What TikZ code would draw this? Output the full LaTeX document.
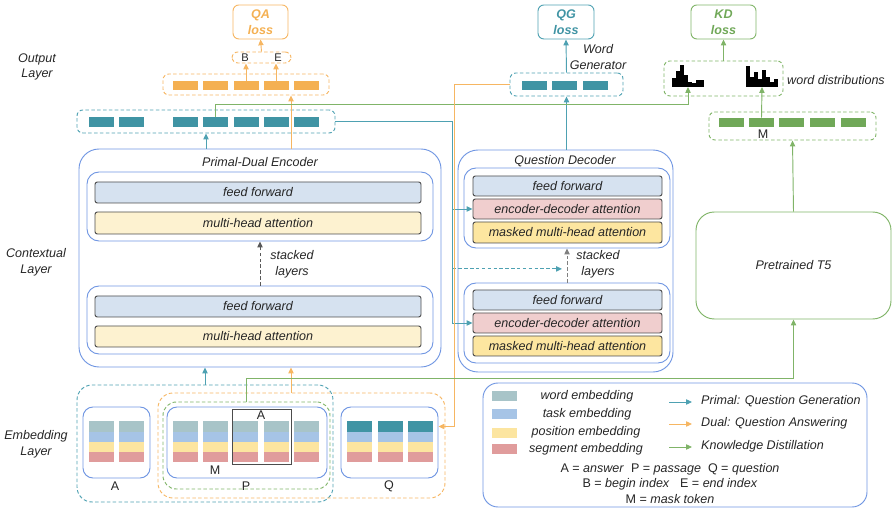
\documentclass[tikz,border=0pt]{standalone}
\usepackage{fontspec}
\setmainfont{Liberation Sans}
\setsansfont{Liberation Sans}
\usepackage{tikz}
\usetikzlibrary{arrows.meta, calc, fit, positioning}
\usepackage{xcolor}

\definecolor{tealtok}{RGB}{64,148,164}
\definecolor{tealln}{RGB}{78,161,178}
\definecolor{oratok}{RGB}{244,176,82}
\definecolor{orain}{RGB}{246,182,98}
\definecolor{grntok}{RGB}{112,168,88}
\definecolor{grnln}{RGB}{128,180,104}
\definecolor{blueln}{RGB}{112,150,226}
\definecolor{fffill}{RGB}{214,226,240}
\definecolor{mhafill}{RGB}{253,242,208}
\definecolor{mmfill}{RGB}{253,230,160}
\definecolor{edfill}{RGB}{240,206,206}
\definecolor{wemb}{RGB}{168,196,200}
\definecolor{temb}{RGB}{166,196,230}
\definecolor{pemb}{RGB}{252,229,160}
\definecolor{semb}{RGB}{224,156,156}

\newcommand{\txtsize}{\fontsize{10.7}{13.5}\selectfont}

\tikzset{
  lbl/.style={font=\txtsize\itshape, inner sep=0pt, align=center},
  plain/.style={font=\txtsize, inner sep=0pt},
  blockbox/.style={draw=blueln, line width=0.8pt, rounded corners=0.6cm, inner sep=0pt},
  layerbox/.style={draw=blueln, line width=0.8pt, rounded corners=0.36cm, inner sep=0pt},
  subbox/.style={draw=black!70, line width=0.8pt, rounded corners=2pt, inner sep=0pt},
  tok/.style={minimum width=0.75cm, minimum height=0.28cm, inner sep=0pt},
  grp/.style={dash pattern=on 3pt off 2pt, line width=0.8pt, rounded corners=5pt, inner sep=0pt},
  loss/.style={line width=0.8pt, rounded corners=5pt, inner sep=0pt},
  losstxt/.style={font=\txtsize\bfseries\itshape, align=center, inner sep=0pt},
  arr/.style={line width=0.8pt, -{Triangle[length=5pt,width=4.5pt]}},
}

\begin{document}
\begin{tikzpicture}[x=0.03cm, y=-0.03cm, text=black!85]
  \useasboundingbox (0,0) rectangle (896,516);

  % layer names
  \node[lbl] (lout) at (37,67) {Output\\Layer};
  \node[lbl] (lctx) at (36,262) {Contextual\\Layer};
  \node[lbl] (lemb) at (36,444) {Embedding\\Layer};

  % output layer: QA
  \node[loss, draw=orain, fit={(233,5) (288,39)}] (qa) {};
  \node[losstxt, text=oratok] at (qa.center) {QA\\loss};
  \node[inner sep=0pt, font=\fontsize{9.5}{11}\selectfont] (bb) at (245,58) {B};
  \node[inner sep=0pt, font=\fontsize{9.5}{11}\selectfont] (be) at (278,58) {E};
  \node[grp, draw=orain, fit={(232,52) (291,63)}] (beb) {};
  \foreach \x [count=\i] in {185,215,246,276,306}
    \node[tok, fill=oratok] (ot\i) at (\x,85.5) {};
  \node[grp, draw=orain, fit={(163,74) (329,95)}] (otb) {};
  \foreach \x [count=\i] in {101,131,185,215,246,276,306}
    \node[tok, fill=tealtok] (ct\i) at (\x,122) {};
  \node[grp, draw=tealln, fit={(77,110) (335,133)}] (ctb) {};

  % output layer: QG
  \node[loss, draw=tealln, fit={(538,5) (594,39)}] (qg) {};
  \node[losstxt, text=tealtok] at (qg.center) {QG\\loss};
  \node[lbl] (wgen) at (598,57) {Word\\Generator};
  \foreach \x [count=\i] in {534.5,564.5,595}
    \node[tok, fill=tealtok] (qt\i) at (\x,85.5) {};
  \node[grp, draw=tealln, fit={(510,73) (623,96)}] (qgb) {};

  % output layer: KD
  \node[loss, draw=grnln, fit={(691,5) (756,39)}] (kd) {};
  \node[losstxt, text=grntok] at (kd.center) {KD\\loss};
  \node[grp, draw=grnln, fit={(664,61) (783,96)}] (wdb) {};
  \node[lbl, anchor=west] (wdl) at (787,80) {word distributions};
  \foreach \h [count=\i] in {9,16,22,12,5,4,7,7}
    \fill[black] (668+\i*4,87) rectangle ++(4.2,-\h);
  \foreach \h [count=\i] in {21,10,15,8,17,10,5,8}
    \fill[black] (742+\i*4,87) rectangle ++(4.2,-\h);
  \coordinate (h1) at (688,87);
  \coordinate (h2) at (762,87);
  \foreach \x [count=\i] in {731,761.5,791.5,822.5,853}
    \node[tok, fill=grntok] (gt\i) at (\x,122.5) {};
  \node[plain] (gm) at (763,134) {M};
  \node[grp, draw=grnln, fit={(709,112) (876,140)}] (gtb) {};

  % encoder
  \node[blockbox, fit={(79,149) (441,367)}] (enc) {};
  \node[lbl] (enct) at (260,162) {Primal-Dual Encoder};
  \node[layerbox, fit={(87,172) (433,241)}] (enc1) {};
  \node[subbox, fill=fffill, fit={(95,182) (421,203)}] (eff1) {};
  \node[subbox, fill=mhafill, fit={(95,212) (421,234)}] (emh1) {};
  \node[layerbox, fit={(87,286) (433,354)}] (enc2) {};
  \node[subbox, fill=fffill, fit={(95,296) (421,317)}] (eff2) {};
  \node[subbox, fill=mhafill, fit={(95,326) (421,347)}] (emh2) {};
  \foreach \n/\t in {eff1/feed forward, emh1/multi-head attention,
                     eff2/feed forward, emh2/multi-head attention}
    \node[lbl] at (\n.center) {\t};
  \draw[arr, black!65, dash pattern=on 3pt off 2pt] (enc2.north) -- (enc1.south);
  \node[lbl] (estk) at (292,264) {stacked\\layers};

  % decoder
  \node[blockbox, fit={(458,150) (673,372)}] (dec) {};
  \node[lbl] (dect) at (565,161) {Question Decoder};
  \node[layerbox, fit={(464,168) (670,248)}] (dec1) {};
  \node[subbox, fill=fffill, fit={(473,176) (662,196)}] (dff1) {};
  \node[subbox, fill=edfill, fit={(473,199) (662,219)}] (ded1) {};
  \node[subbox, fill=mmfill, fit={(473,222) (662,243)}] (dmm1) {};
  \node[layerbox, fit={(464,283) (670,363)}] (dec2) {};
  \node[subbox, fill=fffill, fit={(473,290) (662,310)}] (dff2) {};
  \node[subbox, fill=edfill, fit={(473,313) (662,333)}] (ded2) {};
  \node[subbox, fill=mmfill, fit={(473,336) (662,356)}] (dmm2) {};
  \foreach \n/\t in {dff1/feed forward, ded1/encoder-decoder attention, dmm1/masked multi-head attention,
                     dff2/feed forward, ded2/encoder-decoder attention, dmm2/masked multi-head attention}
    \node[lbl] at (\n.center) {\t};
  \draw[arr, black!50, dash pattern=on 3pt off 2pt] (dec2.north) -- (dec1.south);
  \node[lbl] (dstk) at (598,264) {stacked\\layers};

  % teacher
  \node[draw=grnln, line width=0.8pt, rounded corners=0.55cm, inner sep=0pt,
        fit={(696,212) (891,319)}] (t5) {};
  \node[lbl] at (t5.center) {Pretrained T5};

  % embedding layer
  \node[grp, draw=tealln, rounded corners=0.45cm, fit={(77,385) (333,502)}] (teb) {};
  \node[grp, draw=orain, rounded corners=0.45cm, fit={(158,393) (445,498)}] (oeb) {};
  \node[grp, draw=grnln, rounded corners=0.4cm, fit={(163,402) (330,489)}] (geb) {};
  \node[layerbox, rounded corners=0.3cm, fit={(83,407) (150,478)}] (ab) {};
  \node[layerbox, rounded corners=0.3cm, fit={(167,407) (327,478)}] (pb) {};
  \node[layerbox, rounded corners=0.3cm, fit={(341,407) (438,478)}] (qb) {};
  \foreach \x in {89,119,173,203,233,264,294} {
    \fill[wemb] (\x,421) rectangle ++(25,10.5);
    \fill[temb] (\x,431.5) rectangle ++(25,10.5);
    \fill[pemb] (\x,442) rectangle ++(25,10);
    \fill[semb] (\x,452) rectangle ++(25,10);
  }
  \foreach \x [count=\i] in {347,378,408} {
    \node[tok, minimum height=0.315cm, fill=tealtok, anchor=north west] (qw\i) at (\x,421) {};
    \fill[temb] (\x,431.5) rectangle ++(25,10.5);
    \fill[pemb] (\x,442) rectangle ++(25,10);
    \fill[semb] (\x,452) rectangle ++(25,10);
  }
  \node[draw=black!70, line width=0.8pt, inner sep=0pt, fit={(232,409) (291,464)}] (ansb) {};
  \node[plain] (ansl) at (261,415) {A};
  \node[plain] (al) at (115,486) {A};
  \node[plain] (pl) at (246,486) {P};
  \node[plain] (ql) at (389,486) {Q};
  \node[plain] (pm) at (215,470) {M};

  % legend
  \node[layerbox, rounded corners=0.45cm, fit={(483,383) (867,507)}] (leg) {};
  \fill[wemb] (492,391) rectangle (517,401);
  \fill[temb] (492,409) rectangle (517,419);
  \fill[pemb] (492,428) rectangle (517,438);
  \fill[semb] (492,444) rectangle (517,454);
  \node[lbl] (lw) at (587,396) {word embedding};
  \node[lbl] (lt) at (587,414) {task embedding};
  \node[lbl] (lp) at (586,432) {position embedding};
  \node[lbl] (ls) at (586,449) {segment embedding};
  \node[lbl, anchor=west] (lpr) at (701,401) {Primal: Question Generation};
  \node[lbl, anchor=west] (ldu) at (701,423) {Dual: Question Answering};
  \node[lbl, anchor=west] (lkd) at (701,446) {Knowledge Distillation};
  \coordinate (la1) at (669,402); \coordinate (lb1) at (692,402);
  \coordinate (la2) at (669,424); \coordinate (lb2) at (692,424);
  \coordinate (la3) at (669,447); \coordinate (lb3) at (692,447);
  \draw[arr, tealln] (la1) -- (lb1);
  \draw[arr, orain] (la2) -- (lb2);
  \draw[arr, grnln] (la3) -- (lb3);
  \node[plain] (ln1) at (670,469) {A = \textit{answer}\ \ P = \textit{passage}\ \ Q = \textit{question}};
  \node[plain] (ln2) at (670,484) {B = \textit{begin index}\ \ \ E = \textit{end index}};
  \node[plain] (ln3) at (670,499) {M = \textit{mask token}};

  % connectors
  \coordinate (qax) at ($(ot4.east)!0.5!(ot5.west)$);
  \coordinate (tbus) at ($(ded1.west)+(-20,0)$);
  \coordinate (dmid) at ($(dec1.south)!0.6!(dec2.north)+(-5,0)$);
  \draw[arr, orain] (ot3.north) -- (ot3.north |- beb.south);
  \draw[arr, orain] (ot4.north) -- (ot4.north |- beb.south);
  \draw[arr, orain] (beb.north) -- (qa.south);
  \draw[arr, tealln] (enc.north -| ctb.south) -- (ctb.south);
  \draw[arr, orain] (enc.north -| qax) -- (otb.south -| qax);
  \draw[arr, tealln] (qgb.north) -- (qg.south);
  \draw[arr, tealln] (dec.north -| qgb.south) -- (qgb.south);
  \draw[arr, grnln] (wdb.north) -- (kd.south);
  \draw[arr, grnln] (gt2.north) -- (h2);
  \draw[arr, grnln] (t5.north) -- (gtb.south);
  \draw[arr, grnln] (ct4.north) -- ++(0,-13) -| (h1);
  \draw[arr, tealln] (ctb.east) -| (tbus |- ded2.west) -- (ded2.west);
  \draw[arr, tealln] (tbus) -- (ded1.west);
  \draw[arr, tealln, dash pattern=on 3pt off 2pt] (tbus |- dmid) -- (dmid);
  \draw[arr, orain] (qgb.west) -- ++(-55,0) |- (qb.east |- qw3.east);
  \draw[arr, tealln] (teb.north) -- (teb.north |- enc.south);
  \draw[arr, orain] (oeb.north -| qax) -- (qax |- enc.south);
  \draw[arr, grnln] (geb.north) -- ++(0,-23) -| (t5.south);
\end{tikzpicture}
\end{document}
